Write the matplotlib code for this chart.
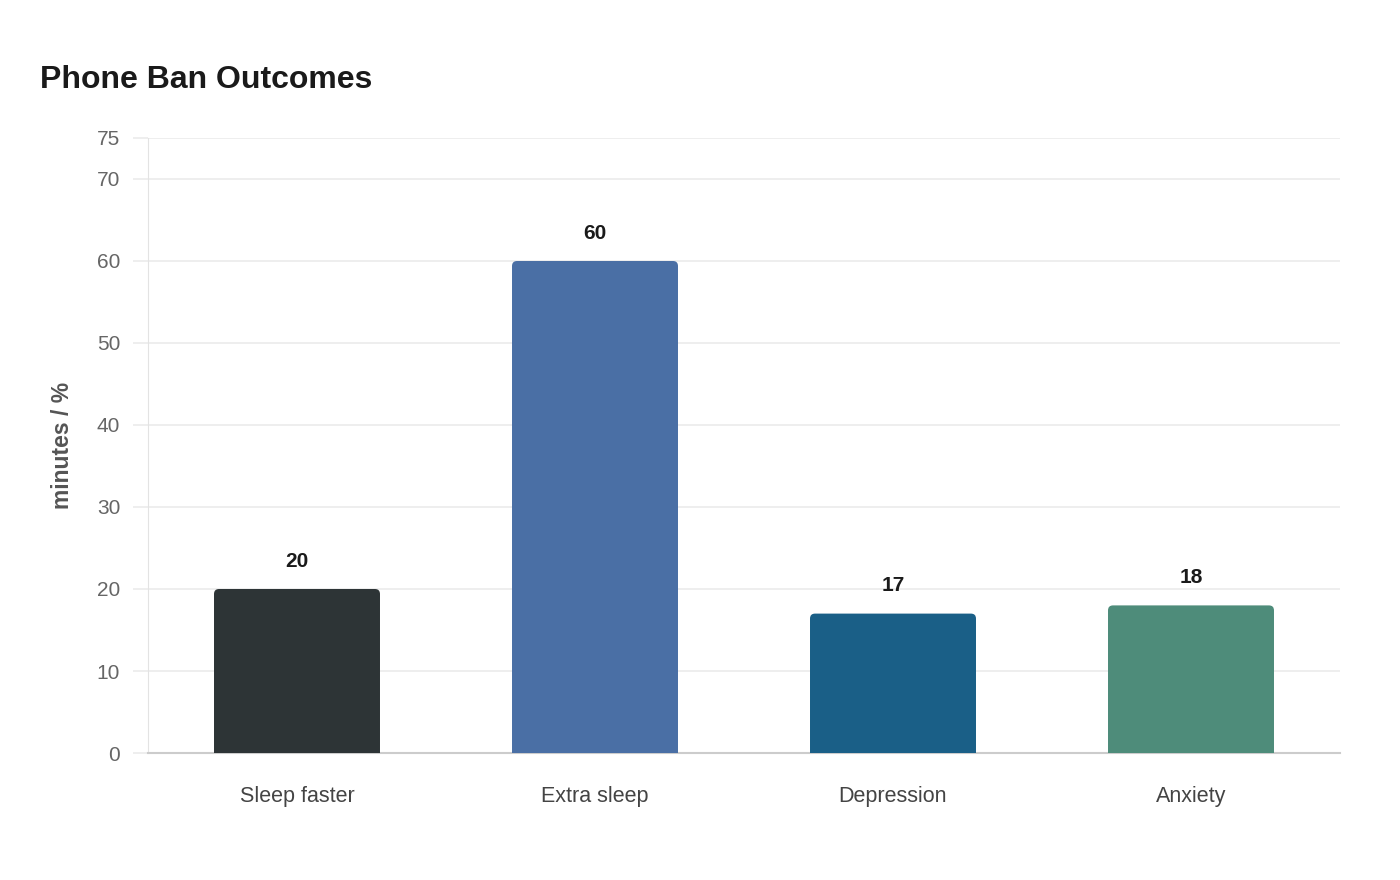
import matplotlib
matplotlib.use("Agg")
import matplotlib.pyplot as plt
from matplotlib.patches import FancyBboxPatch

plt.rcParams['font.family'] = ['Liberation Sans', 'DejaVu Sans']

categories = ['Sleep faster', 'Extra sleep', 'Depression', 'Anxiety']
values = [20, 60, 17, 18]
colors = ['#2d3436', '#4a6fa5', '#1a5f87', '#4e8c7a']
yticks = [0, 10, 20, 30, 40, 50, 60, 70, 75]

fig = plt.figure(figsize=(14, 8.8), dpi=100)
ax = fig.add_axes([148/1400, 1 - 753/880, 1192/1400, 615/880])

x = list(range(len(categories)))
bars = ax.bar(x, values, width=0.557, color=colors, zorder=3)
ax.set_xlim(-0.5, len(categories) - 0.5)
ax.set_ylim(0, 75)

# swap plain bars for ones with rounded tops (~5 px radius)
px_x = 1192 / 4.0
px_y = 615 / 75.0
r = 5 / px_x
aspect = (5 / px_y) / r
for b in bars:
    bx, bw, bh = b.get_x(), b.get_width(), b.get_height()
    fb = FancyBboxPatch((bx, -2), bw, bh + 2,
                        boxstyle=f"round,pad=0,rounding_size={r}",
                        mutation_aspect=aspect, facecolor=b.get_facecolor(),
                        edgecolor='none', zorder=3)
    b.set_visible(False)
    ax.add_patch(fb)

for xi, v in zip(x, values):
    ax.annotate(str(v), (xi, v), xytext=(0, 20), textcoords='offset points',
                ha='center', va='center', fontsize=15, fontweight='bold',
                color='#1a1a1a')

ax.set_yticks(yticks)
ax.set_xticks(x)
ax.set_xticklabels(categories)
ax.grid(axis='y', color='#ebebeb', linewidth=1.2, zorder=0)
ax.tick_params(axis='y', length=11, color='#ebebeb', width=1.2, pad=9,
               labelsize=15, labelcolor='#666666')
ax.tick_params(axis='x', length=0, pad=24, labelsize=15.5, labelcolor='#444444')

for s in ['top', 'right']:
    ax.spines[s].set_visible(False)
ax.spines['left'].set_color('#e3e3e3')
ax.spines['bottom'].set_color('#cccccc')
ax.spines['bottom'].set_linewidth(1.5)

ax.set_ylabel('minutes / %', fontsize=16.5, fontweight='bold', color='#555555')
ax.yaxis.set_label_coords(-(148 - 74) / 1192, 0.5)

fig.text(40/1400, 1 - 80/880, 'Phone Ban Outcomes', fontsize=23,
         fontweight='bold', color='#1a1a1a', ha='left', va='center')

fig.savefig('out.png', dpi=100)
